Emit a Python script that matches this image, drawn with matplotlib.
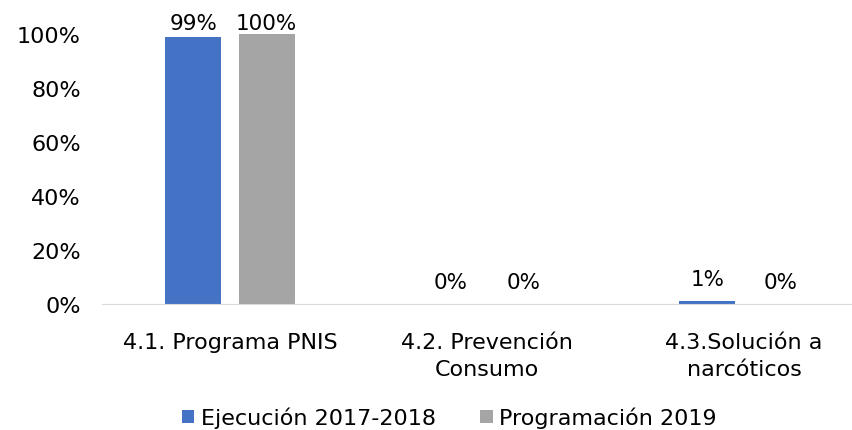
import matplotlib.pyplot as plt
import numpy as np

categorias = ['4.1. Programa PNIS', '4.2. Prevención\nConsumo', '4.3.Solución a\nnarcóticos']
ejecucion = [0.99, 0.0, 0.01]
programacion = [1.00, 0.0, 0.0]
yticks = [0, 0.2, 0.4, 0.6, 0.8, 1.0]

azul = '#4472C4'
gris = '#A5A5A5'

fig = plt.figure(figsize=(8.53, 4.31), dpi=100)
ax = fig.add_axes([0.119, 0.292, 0.904, 0.627])

x = np.arange(len(categorias))
w = 0.218
off = 0.143
b1 = ax.bar(x - off, ejecucion, w, color=azul, label='Ejecución 2017-2018')
b2 = ax.bar(x + off, programacion, w, color=gris, label='Programación 2019')

for bars, vals in [(b1, ejecucion), (b2, programacion)]:
    for r, v in zip(bars, vals):
        ax.text(r.get_x() + r.get_width() / 2, min(v + 0.045, 1.005), f'{v:.0%}',
                ha='center', va='bottom', fontsize=15.5, color='#000000')

ax.set_xlim(-0.5, 2.5)
ax.set_ylim(0, 1)
ax.set_yticks(yticks)
ax.set_yticklabels([f'{t:.0%}' for t in yticks], fontsize=16)
ax.set_xticks(x)
ax.set_xticklabels(categorias, fontsize=16, linespacing=1.45)
ax.tick_params(length=0)
ax.tick_params(axis='x', pad=20)
ax.tick_params(axis='y', pad=15)
for s in ['top', 'right', 'left']:
    ax.spines[s].set_visible(False)
ax.spines['bottom'].set_color('#D9D9D9')

fig.legend(loc='lower center', bbox_to_anchor=(0.527, -0.042), ncol=2, frameon=False,
           fontsize=16, handlelength=0.55, handleheight=0.55, handletextpad=0.3,
           columnspacing=2.0)

fig.savefig('out.png', dpi=100)
